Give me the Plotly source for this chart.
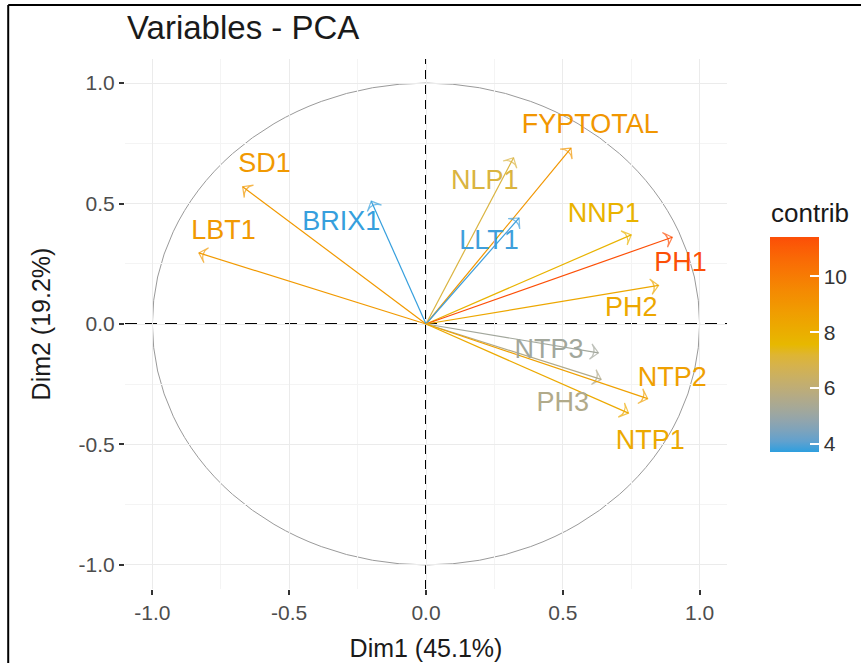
import plotly.graph_objects as go

# ---- data ----
variables = ["SD1", "LBT1", "BRIX1", "NLP1", "FYPTOTAL", "LLT1", "NNP1",
             "PH1", "PH2", "NTP3", "PH3", "NTP2", "NTP1"]
dim1 = [-0.67, -0.83, -0.20, 0.32, 0.53, 0.34, 0.75, 0.90, 0.85, 0.63, 0.64, 0.81, 0.74]
dim2 = [0.57, 0.295, 0.51, 0.69, 0.73, 0.44, 0.37, 0.36, 0.16, -0.12, -0.23, -0.31, -0.37]
contrib = [8.9, 8.9, 3.75, 7.0, 9.0, 3.8, 7.8, 11.4, 8.3, 5.2, 5.6, 8.6, 8.2]
label_x = [-0.59, -0.74, -0.31, 0.215, 0.60, 0.23, 0.65, 0.93, 0.75, 0.45, 0.50, 0.90, 0.82]
label_y = [0.66, 0.38, 0.42, 0.59, 0.82, 0.34, 0.45, 0.25, 0.06, -0.115, -0.335, -0.23, -0.49]
x_ticks = [-1.0, -0.5, 0.0, 0.5, 1.0]
x_tick_text = ["-1.0", "-0.5", "0.0", "0.5", "1.0"]
y_ticks = [-1.0, -0.5, 0.0, 0.5, 1.0]
y_tick_text = ["-1.0", "-0.5", "0.0", "0.5", "1.0"]
cb_ticks = [4, 6, 8, 10]
c_min, c_max = 3.71, 11.43
gradient_cols = ["#2E9FDF", "#E7B800", "#FC4E07"]

# ---- Lab interpolation (like ggplot's gradientn) ----
def _lin(c):
    c = c / 255.0
    return c / 12.92 if c <= 0.04045 else ((c + 0.055) / 1.055) ** 2.4

def _gam(c):
    c = 12.92 * c if c <= 0.0031308 else 1.055 * c ** (1 / 2.4) - 0.055
    return max(0, min(255, round(c * 255)))

def hex_to_lab(h):
    r, g, b = [_lin(int(h[i:i + 2], 16)) for i in (1, 3, 5)]
    X = (0.4124 * r + 0.3576 * g + 0.1805 * b) / 0.95047
    Y = (0.2126 * r + 0.7152 * g + 0.0722 * b)
    Z = (0.0193 * r + 0.1192 * g + 0.9505 * b) / 1.08883
    f = lambda t: t ** (1 / 3) if t > 0.008856 else 7.787 * t + 16 / 116
    fx, fy, fz = f(X), f(Y), f(Z)
    return (116 * fy - 16, 500 * (fx - fy), 200 * (fy - fz))

def lab_to_hex(L, a, b):
    fy = (L + 16) / 116
    fx = fy + a / 500
    fz = fy - b / 200
    fi = lambda t: t ** 3 if t ** 3 > 0.008856 else (t - 16 / 116) / 7.787
    X, Y, Z = fi(fx) * 0.95047, fi(fy), fi(fz) * 1.08883
    r = 3.2406 * X - 1.5372 * Y - 0.4986 * Z
    g = -0.9689 * X + 1.8758 * Y + 0.0415 * Z
    bb = 0.0557 * X - 0.2040 * Y + 1.0570 * Z
    return "#%02X%02X%02X" % (_gam(max(r, 0)), _gam(max(g, 0)), _gam(max(bb, 0)))

labs = [hex_to_lab(c) for c in gradient_cols]

def color_at(t):
    t = max(0.0, min(1.0, t))
    seg = min(int(t * 2), 1)
    u = t * 2 - seg
    a, b = labs[seg], labs[seg + 1]
    return lab_to_hex(*[a[i] + (b[i] - a[i]) * u for i in range(3)])

n_stops = 21
colorscale = [[i / (n_stops - 1), color_at(i / (n_stops - 1))] for i in range(n_stops)]

def col_of(v):
    return color_at((v - c_min) / (c_max - c_min))

FONT = "Liberation Sans, Arial, sans-serif"

fig = go.Figure()

# arrows
for name, x, y, c in zip(variables, dim1, dim2, contrib):
    col = col_of(c)
    fig.add_trace(go.Scatter(
        x=[0, x], y=[0, y], mode="lines+markers",
        line=dict(color=col, width=1.2),
        marker=dict(symbol=["circle", "arrow-wide-open"], size=[0, 11],
                    angleref="previous", color=col,
                    line=dict(color=col, width=1.2)),
        hoverinfo="skip", showlegend=False))

# labels
fig.add_trace(go.Scatter(
    x=label_x, y=label_y, mode="text", text=variables,
    textfont=dict(family=FONT, size=27, color=[col_of(c) for c in contrib]),
    hoverinfo="skip", showlegend=False))

# colorbar carrier
fig.add_trace(go.Scatter(
    x=[0], y=[0], mode="markers",
    marker=dict(size=0.1, opacity=0, color=[c_min], colorscale=colorscale,
                cmin=c_min, cmax=c_max, showscale=True,
                colorbar=dict(
                    xref="container", x=770 / 861, xanchor="left",
                    yref="container", y=1 - 296 / 663, yanchor="top",
                    len=215, lenmode="pixels", thickness=49,
                    outlinewidth=0, tickvals=cb_ticks,
                    ticks="inside", ticklen=9, tickcolor="white", tickwidth=1.5,
                    tickfont=dict(family=FONT, size=21, color="#333333"),
                    ypad=0, xpad=0)),
    hoverinfo="skip", showlegend=False))

shapes = [
    dict(type="circle", xref="x", yref="y", x0=-1, y0=-1, x1=1, y1=1,
         line=dict(color="#9A9A9A", width=1), layer="below"),
    dict(type="line", xref="x", yref="paper", x0=0, x1=0, y0=0, y1=1,
         line=dict(color="black", width=2, dash="9px,6px"), layer="below"),
    dict(type="line", xref="paper", yref="y", x0=0, x1=1, y0=0, y1=0,
         line=dict(color="black", width=2, dash="12px,8px"), layer="below"),
    # outer frame (top and left edges visible in the reference)
    dict(type="line", xref="paper", yref="paper", x0=-0.194, x1=-0.194,
         y0=1.102, y1=-0.2, line=dict(color="black", width=2)),
    dict(type="line", xref="paper", yref="paper", x0=-0.194, x1=1.3,
         y0=1.102, y1=1.102, line=dict(color="black", width=2)),
]

axis_common = dict(
    range=[-1.1, 1.1], showgrid=True, gridcolor="#EBEBEB", gridwidth=1,
    zeroline=False, showline=False, ticks="outside", ticklen=5,
    tickcolor="#333333", tickwidth=1.5, automargin=False,
    tickfont=dict(family=FONT, size=21, color="#4D4D4D"),
    minor=dict(tickvals=[-0.75, -0.25, 0.25, 0.75], showgrid=True,
               gridcolor="#F4F4F4", ticks=""),
)

fig.update_layout(
    width=861, height=663,
    margin=dict(l=125, r=134, t=59, b=74, autoexpand=False),
    paper_bgcolor="white", plot_bgcolor="white",
    font=dict(family=FONT),
    title=dict(text="Variables - PCA", xref="container", yref="container",
               x=127 / 861, xanchor="left", y=1 - 27 / 663, yanchor="middle",
               font=dict(family=FONT, size=33, color="#1A1A1A")),
    xaxis=dict(**axis_common, tickvals=x_ticks, ticktext=x_tick_text,
               title=dict(text="Dim1 (45.1%)", standoff=16,
                          font=dict(family=FONT, size=25, color="#1A1A1A"))),
    yaxis=dict(**axis_common, tickvals=y_ticks, ticktext=y_tick_text,
               title=dict(text="Dim2 (19.2%)", standoff=20,
                          font=dict(family=FONT, size=25, color="#1A1A1A"))),
    shapes=shapes,
    annotations=[dict(text="contrib", xref="paper", yref="paper",
                      x=(769 - 125) / 602, y=(589 - 213) / 530,
                      xanchor="left", yanchor="middle", showarrow=False,
                      font=dict(family=FONT, size=26, color="#1A1A1A"))],
)

fig.write_html("out.html")
